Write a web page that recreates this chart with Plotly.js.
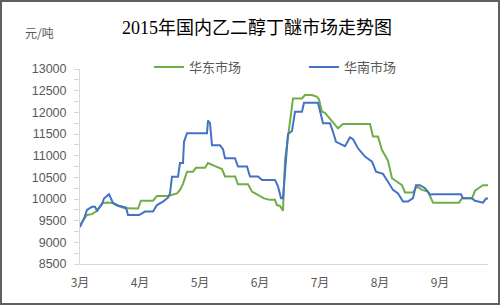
<!DOCTYPE html>
<html>
<head>
<meta charset="utf-8">
<script src="https://cdn.plot.ly/plotly-3.0.1.min.js"></script>
<style>
  html, body { margin: 0; padding: 0; background: #fff; }
  #wrap { position: relative; width: 500px; height: 305px; }
  #chart { width: 500px; height: 305px; }
  #frame { position: absolute; left: 0; top: 0; width: 500px; height: 305px; box-sizing: border-box; border: 2px solid #606060; pointer-events: none; }
</style>
</head>
<body>
<div id="wrap"><div id="chart"></div><div id="frame"></div></div>
<script>
// Day offsets from 1 March (30-day spaced month ticks on the source chart)
const monthTickDays = [0, 30, 60, 90, 120, 150, 180];
const monthLabels = ["3月", "4月", "5月", "6月", "7月", "8月", "9月"];

// 华东市场 (East China)
const eastDays = [0, 3.5, 6, 8.5, 11, 13.5, 16, 18.5, 22.5, 29, 30.5, 36.5, 38.5, 44, 48.5, 50, 51.5, 53.5, 56.5, 58, 62.5, 64, 67.5, 71, 72.5, 77.5, 79, 84, 86, 89, 92, 95, 97.5, 98.5, 100, 101.5, 102.5, 106.5, 111, 112.5, 116, 118.5, 119.5, 121, 122.5, 129, 131.5, 145, 146.5, 149, 151, 152.5, 154, 156, 158.5, 161, 162.5, 166.5, 168.5, 171, 174, 176.5, 189.5, 191, 196, 197.5, 200, 201.5, 204];
const eastPrice = [9400, 9630, 9650, 9730, 9900, 9920, 9910, 9850, 9785, 9780, 9960, 9960, 10070, 10070, 10130, 10210, 10350, 10630, 10630, 10720, 10720, 10830, 10760, 10690, 10520, 10520, 10340, 10340, 10170, 10090, 10015, 9980, 9980, 9860, 9840, 9730, 10900, 12320, 12320, 12400, 12400, 12360, 12300, 12015, 11990, 11630, 11730, 11730, 11440, 11440, 11130, 11010, 10880, 10480, 10400, 10320, 10150, 10150, 10290, 10210, 10170, 9915, 9915, 10015, 10015, 10190, 10270, 10320, 10320];

// 华南市场 (South China)
const southDays = [0, 2, 3.5, 6, 7.5, 8.5, 11, 12, 14.5, 16.5, 19, 21.5, 23, 24, 29.5, 31, 32.5, 36.5, 38.5, 41.5, 44, 45, 46, 49, 50, 51.5, 52, 53.5, 63.5, 64, 65, 66, 70, 71.5, 72.5, 77.5, 79, 83.5, 85, 89, 91, 97.5, 99, 100.5, 101.5, 104, 106, 107.5, 111, 112, 119, 121.5, 125, 126.5, 128, 132.5, 135, 136.5, 139, 142.5, 146, 148, 151.5, 154, 156.5, 159, 161.5, 164, 166.5, 168, 170, 172.5, 175, 176.5, 190.5, 191.5, 196, 197.5, 201.5, 203, 204];
const southPrice = [9350, 9550, 9750, 9820, 9820, 9730, 9880, 10010, 10110, 9910, 9850, 9820, 9800, 9630, 9630, 9670, 9710, 9710, 9860, 9940, 10030, 10130, 10515, 10515, 10830, 10830, 11320, 11520, 11520, 11810, 11750, 11240, 11240, 11150, 10940, 10940, 10750, 10750, 10520, 10520, 10440, 10440, 10290, 10020, 10020, 11500, 11570, 12015, 12015, 12220, 12220, 11750, 11750, 11550, 11320, 11220, 11420, 11380, 11170, 10980, 10860, 10630, 10580, 10400, 10210, 10130, 9940, 9940, 10020, 10320, 10320, 10250, 10100, 10110, 10110, 10015, 10015, 9960, 9915, 10010, 10010];

const yTicks = [8500, 9000, 9500, 10000, 10500, 11000, 11500, 12000, 12500, 13000];
const yTickLabels = ["8500", "9000", "9500", "10000", "10500", "11000", "11500", "12000", "12500", "13000"];

const traces = [
  { x: eastDays, y: eastPrice, name: "华东市场", type: "scatter", mode: "lines",
    line: { color: "#70AD47", width: 2 } },
  { x: southDays, y: southPrice, name: "华南市场", type: "scatter", mode: "lines",
    line: { color: "#4472C4", width: 2 } }
];

const layout = {
  width: 500, height: 305,
  margin: { l: 80, r: 12, t: 69, b: 41, pad: 0 },
  paper_bgcolor: "#ffffff", plot_bgcolor: "#ffffff",
  font: { family: "Liberation Sans, Noto Sans CJK SC, sans-serif", color: "#595959", size: 12 },
  title: {
    text: "2015年国内乙二醇丁醚市场走势图",
    font: { family: "Liberation Serif, Noto Sans CJK SC, serif", size: 18, color: "#000000" },
    x: 0.514, xref: "container", xanchor: "center",
    y: 1 - 28 / 305, yref: "container", yanchor: "middle"
  },
  showlegend: true,
  legend: {
    orientation: "h", x: 0.169, xanchor: "left", y: 1.01, yanchor: "middle",
    entrywidth: 110, entrywidthmode: "pixels",
    font: { family: "Noto Sans CJK SC, sans-serif", size: 13, color: "#595959" },
    bgcolor: "rgba(0,0,0,0)"
  },
  xaxis: {
    range: [0, 204], showgrid: false, zeroline: false,
    showline: true, linecolor: "#D9D9D9", linewidth: 1,
    tickmode: "array", tickvals: monthTickDays, ticktext: monthLabels,
    ticks: "outside", ticklen: 8, tickcolor: "rgba(0,0,0,0)",
    tickfont: { family: "Noto Sans CJK SC, sans-serif", size: 12, color: "#595959" }
  },
  yaxis: {
    range: [8500, 13000], showgrid: false, zeroline: false,
    showline: true, linecolor: "#D9D9D9", linewidth: 1,
    tickmode: "array", tickvals: yTicks, ticktext: yTickLabels,
    ticks: "outside", ticklen: 5, tickcolor: "#D9D9D9",
    ticklabelstandoff: 5,
    minor: { dtick: 250, tick0: 8500, ticks: "outside", ticklen: 5, tickcolor: "#D9D9D9", showgrid: false },
    tickfont: { family: "Liberation Sans, sans-serif", size: 12.5, color: "#595959" }
  },
  annotations: [
    { text: "元/吨", xref: "paper", yref: "paper", x: -57 / 408, y: 1 + 37 / 195,
      xanchor: "left", yanchor: "middle", showarrow: false,
      font: { family: "Noto Sans CJK SC, sans-serif", size: 12, color: "#595959" } }
  ]
};

Plotly.newPlot("chart", traces, layout, { staticPlot: true, displayModeBar: false });
</script>
</body>
</html>
